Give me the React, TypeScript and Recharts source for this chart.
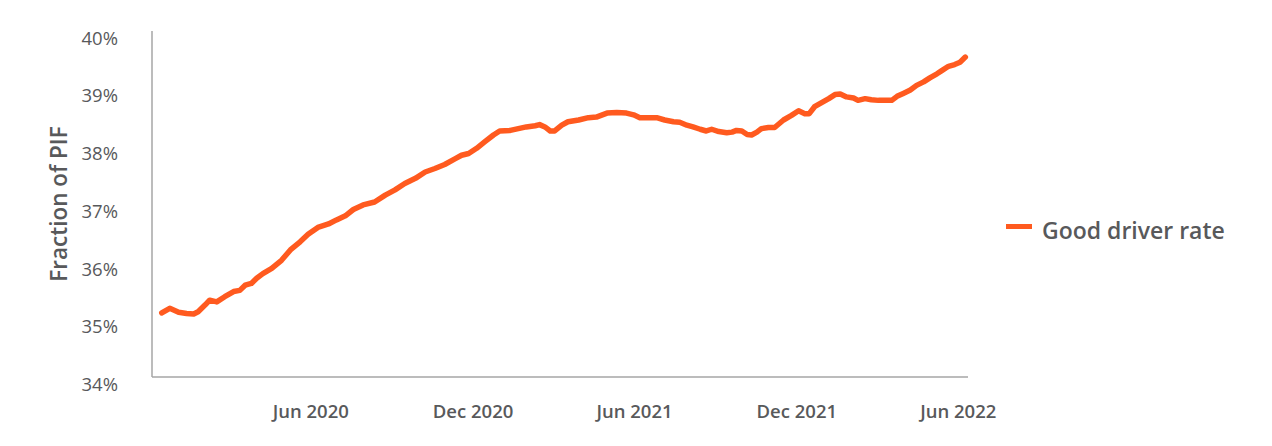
import React from "react";
import { LineChart, Line, XAxis, YAxis, Legend, ReferenceLine } from "recharts";

// weekly-ish readings of the good driver rate (% of policies in force)
const dates = [
  "2019-12-16", "2019-12-25", "2020-01-04", "2020-01-13", "2020-01-21", "2020-01-26",
  "2020-02-03", "2020-02-08", "2020-02-16", "2020-02-25", "2020-03-06", "2020-03-13",
  "2020-03-19", "2020-03-26", "2020-04-01", "2020-04-08", "2020-04-18", "2020-04-29",
  "2020-05-09", "2020-05-20", "2020-05-29", "2020-06-09", "2020-06-21", "2020-06-30",
  "2020-07-10", "2020-07-19", "2020-07-30", "2020-08-12", "2020-08-24", "2020-09-04",
  "2020-09-15", "2020-09-27", "2020-10-08", "2020-10-19", "2020-10-30", "2020-11-11",
  "2020-11-18", "2020-11-26", "2020-12-05", "2020-12-14", "2020-12-24", "2020-12-31",
  "2021-01-12", "2021-01-21", "2021-01-30", "2021-02-09", "2021-02-14", "2021-02-20",
  "2021-02-26", "2021-03-03", "2021-03-11", "2021-03-18", "2021-03-30", "2021-04-10",
  "2021-04-19", "2021-05-01", "2021-05-12", "2021-05-23", "2021-05-31", "2021-06-07",
  "2021-06-17", "2021-06-26", "2021-07-05", "2021-07-15", "2021-07-22", "2021-07-30",
  "2021-08-06", "2021-08-14", "2021-08-21", "2021-08-27", "2021-09-04", "2021-09-13",
  "2021-09-19", "2021-09-24", "2021-09-30", "2021-10-06", "2021-10-11", "2021-10-17",
  "2021-10-22", "2021-10-30", "2021-11-06", "2021-11-16", "2021-11-25", "2021-12-03",
  "2021-12-10", "2021-12-15", "2021-12-21", "2021-12-29", "2022-01-06", "2022-01-13",
  "2022-01-19", "2022-01-26", "2022-02-03", "2022-02-08", "2022-02-16", "2022-02-23",
  "2022-03-03", "2022-03-10", "2022-03-18", "2022-03-24", "2022-03-31", "2022-04-08",
  "2022-04-15", "2022-04-23", "2022-04-30", "2022-05-08", "2022-05-13", "2022-05-21",
  "2022-05-28", "2022-06-03", "2022-06-09",
];

const goodDriverRate = [
  35.24, 35.32, 35.25, 35.23, 35.22, 35.26,
  35.38, 35.46, 35.43, 35.52, 35.61, 35.63,
  35.72, 35.75, 35.84, 35.92, 36.01, 36.15,
  36.33, 36.47, 36.6, 36.72, 36.78, 36.85,
  36.92, 37.03, 37.11, 37.16, 37.28, 37.37,
  37.48, 37.57, 37.68, 37.74, 37.81, 37.91,
  37.97, 38.0, 38.09, 38.2, 38.32, 38.39,
  38.4, 38.43, 38.46, 38.48, 38.5, 38.46,
  38.39, 38.39, 38.49, 38.55, 38.58, 38.62,
  38.63, 38.7, 38.71, 38.7, 38.67, 38.62,
  38.62, 38.62, 38.58, 38.55, 38.54, 38.49,
  38.46, 38.42, 38.39, 38.42, 38.38, 38.36,
  38.37, 38.4, 38.39, 38.33, 38.32, 38.37,
  38.43, 38.45, 38.45, 38.58, 38.66, 38.74,
  38.69, 38.69, 38.81, 38.88, 38.95, 39.02,
  39.03, 38.98, 38.96, 38.92, 38.95, 38.93,
  38.92, 38.92, 38.92, 38.99, 39.04, 39.1,
  39.18, 39.24, 39.31, 39.38, 39.43, 39.51,
  39.54, 39.58, 39.67,
];

const tickDates = ["2020-06-01", "2020-12-01", "2021-06-01", "2021-12-01", "2022-06-01"];
const tickLabels = ["Jun 2020", "Dec 2020", "Jun 2021", "Dec 2021", "Jun 2022"];
const yTicks = [34, 35, 36, 37, 38, 39, 40];

const toTime = (s: string) => Date.parse(s + "T00:00:00Z");

const data = dates.map((d, i) => ({ t: toTime(d), rate: goodDriverRate[i] }));
const xTicks = tickDates.map(toTime);
const xStart = toTime("2019-12-05");
const xEnd = toTime("2022-06-12");

const ORANGE = "#ff5a1f";
const TEXT = "#58595b";
const AXIS = "#a6a6a6";
const FONT = "'Open Sans', 'Noto Sans', sans-serif";

function LegendBox() {
  return (
    <svg width={260} height={50}>
      <rect x={8} y={16} width={26} height={5} fill={ORANGE} />
      <text x={44} y={31} fill={TEXT} fontFamily={FONT} fontSize={23} fontWeight={600}>
        Good driver rate
      </text>
    </svg>
  );
}

export default function App() {
  return (
    <LineChart
      width={1256}
      height={430}
      data={data}
      margin={{ top: 30, right: 296, left: 0, bottom: 13.5 }}
    >
      <XAxis
        dataKey="t"
        type="number"
        scale="time"
        domain={[xStart, xEnd]}
        ticks={xTicks}
        tickFormatter={(v: number) => tickLabels[xTicks.indexOf(v)] ?? ""}
        axisLine={false}
        tickLine={false}
        tickSize={0}
        tickMargin={20}
        height={40}
        tick={{ fill: TEXT, fontSize: 18.5, fontWeight: 600, fontFamily: FONT }}
      />
      <YAxis
        domain={[34, 40]}
        ticks={yTicks}
        tickFormatter={(v: number) => `${v}%`}
        axisLine={false}
        tickLine={false}
        tickSize={0}
        tickMargin={34}
        width={144}
        tick={{ fill: TEXT, fontSize: 18.5, fontFamily: FONT }}
        label={{
          content: () => (
            <text
              x={50}
              y={196}
              transform="rotate(-90 50 196)"
              textAnchor="middle"
              dominantBaseline="central"
              fill={TEXT}
              fontFamily={FONT}
              fontSize={22.5}
              fontWeight={600}
            >
              Fraction of PIF
            </text>
          ),
        }}
      />
      <ReferenceLine y={34.13} stroke={AXIS} strokeWidth={1.5} />
      <ReferenceLine
        segment={[
          { x: xStart, y: 34.13 },
          { x: xStart, y: 40.12 },
        ]}
        stroke={AXIS}
        strokeWidth={1.5}
        ifOverflow="visible"
      />
      <Legend
        layout="horizontal"
        align="center"
        verticalAlign="middle"
        content={() => <LegendBox />}
        wrapperStyle={{ position: "absolute", left: 990, top: 200, width: 260, height: 50 }}
      />
      <Line
        type="linear"
        dataKey="rate"
        name="Good driver rate"
        stroke={ORANGE}
        strokeWidth={5.5}
        strokeLinejoin="round"
        strokeLinecap="round"
        dot={false}
        isAnimationActive={false}
      />
    </LineChart>
  );
}
